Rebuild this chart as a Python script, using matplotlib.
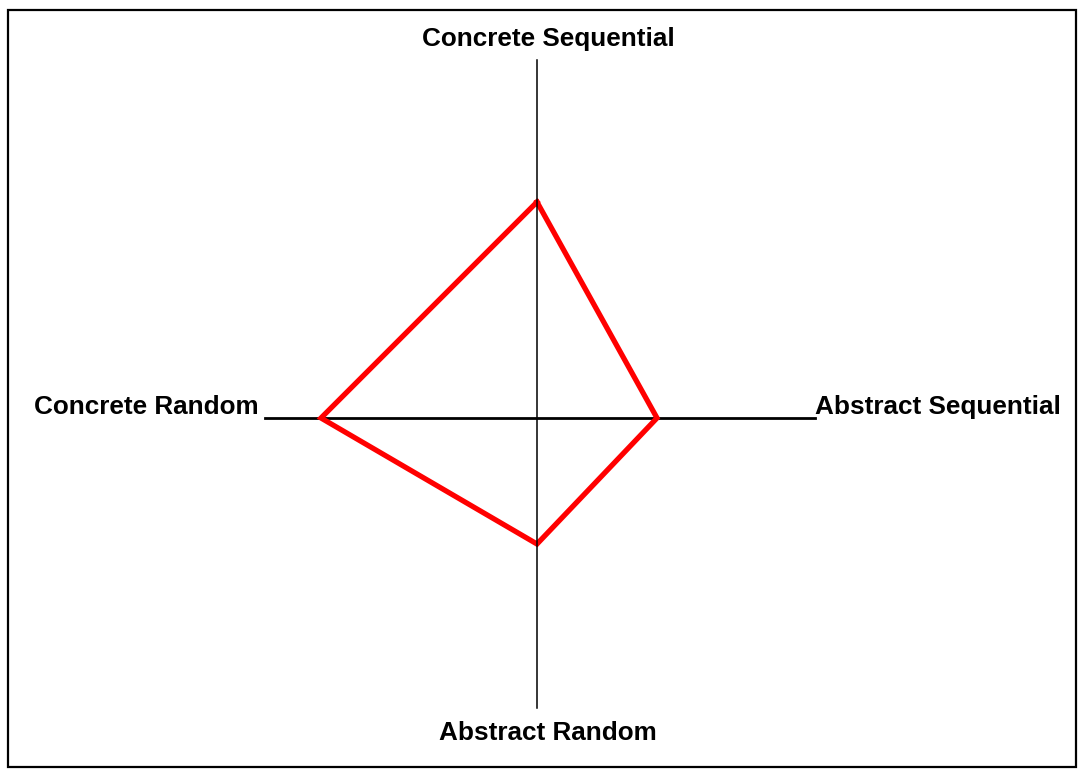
import matplotlib
matplotlib.use("Agg")
from matplotlib import pyplot as plt
from matplotlib.patches import Rectangle

# style scores, one per axis (clockwise from the top)
STYLES = ["Concrete Sequential", "Abstract Sequential", "Abstract Random", "Concrete Random"]
SCORES = [36, 20, 21, 36]

PX = 6.0  # pixels per score unit
W, H = 1081, 772
CX, CY = 537, 418  # centre of the cross, in pixels


def main():
    plt.rcParams["font.family"] = ["Liberation Sans", "DejaVu Sans"]
    fig = plt.figure(figsize=(W / 100, H / 100), dpi=100)
    ax = fig.add_axes([0, 0, 1, 1])
    ax.set_xlim(-CX / PX, (W - CX) / PX)
    ax.set_ylim(-(H - CY) / PX, CY / PX)
    ax.axis("off")

    # frame round the whole picture
    fig.patches.append(Rectangle((8 / W, 5 / H), (1076 - 8) / W, (762 - 5) / H,
                                 transform=fig.transFigure, fill=False,
                                 edgecolor="black", linewidth=1.6))

    # the cross
    ax.plot([-45.3, 46.3], [0, 0], color="black", linewidth=2.0, zorder=1)
    cs, as_, ar, cr = SCORES
    xs = [0, as_, 0, -cr, 0]
    ys = [cs, 0, -ar, 0, cs]
    ax.plot(xs, ys, color="#ff0000", linewidth=3.8, solid_joinstyle="miter", zorder=2)
    ax.plot([0, 0], [59.7, -48.3], color="black", linewidth=1.1, zorder=3)

    kw = dict(fontsize=18.8, fontweight="bold", color="black")
    ax.text(11 / PX, 59.7 + 21 / PX, STYLES[0], ha="center", va="center", **kw)
    ax.text(46.3, 0.6, STYLES[1], ha="left", va="baseline", **kw)
    ax.text(11 / PX, -48.3 - 25 / PX, STYLES[2], ha="center", va="center", **kw)
    ax.text(-45.3 - 7 / PX, 0.6, STYLES[3], ha="right", va="baseline", **kw)

    fig.savefig("out.png", dpi=100)


if __name__ == '__main__':
    main()
